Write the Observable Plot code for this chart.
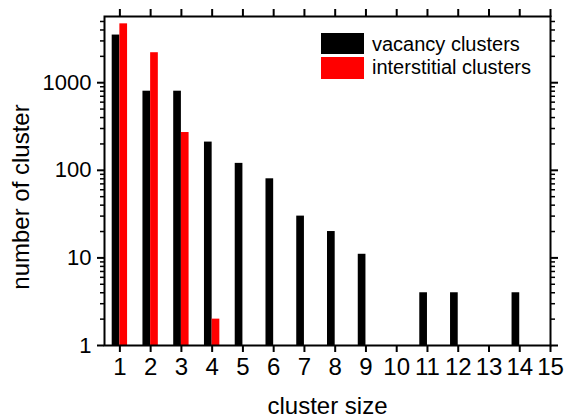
<!DOCTYPE html>
<html>
<head>
<meta charset="utf-8">
<script src="https://cdn.jsdelivr.net/npm/d3@7"></script>
<script src="https://cdn.jsdelivr.net/npm/@observablehq/plot@0.6"></script>
<style>
  html, body { margin: 0; padding: 0; background: white; }
  #wrap { position: relative; width: 564px; height: 418px; font-family: "Liberation Sans", Arial, sans-serif; }
  #legend { position: absolute; left: 321px; top: 33px; }
  .row { display: flex; align-items: flex-start; height: 23px; }
  .sw { width: 43px; height: 21px; margin-right: 8px; }
  .lab { font-size: 20px; line-height: 23px; color: black; white-space: nowrap; }
</style>
</head>
<body>
<div id="wrap"></div>
<script>
// ---- data ----
const vacancySizes = [1, 2, 3, 4, 5, 6, 7, 8, 9, 11, 12, 14];
const vacancyCounts = [3500, 800, 800, 210, 120, 80, 30, 20, 11, 4, 4, 4];
const interstitialSizes = [1, 2, 3, 4];
const interstitialCounts = [4700, 2200, 270, 2];
const seriesNames = ["vacancy clusters", "interstitial clusters"];
const seriesColors = ["#000000", "#ff0000"];
const xTicks = [1, 2, 3, 4, 5, 6, 7, 8, 9, 10, 11, 12, 13, 14, 15];
const yTicks = [1, 10, 100, 1000];
const xLabel = "cluster size";
const yLabel = "number of cluster";

// ---- build ----
const barW = 0.25;
const yMax = 5700;
const yMinor = [];
for (const d of yTicks) for (let k = 2; k <= 9; k++) if (d * k <= yMax) yMinor.push(d * k);

const vac = vacancySizes.map((s, i) => ({size: s, count: vacancyCounts[i]}));
const inter = interstitialSizes.map((s, i) => ({size: s, count: interstitialCounts[i]}));
const noText = () => "";

const chart = Plot.plot({
  width: 564,
  height: 418,
  marginLeft: 104,
  marginTop: 16,
  marginRight: 14,
  marginBottom: 73,
  style: {fontFamily: '"Liberation Sans", Arial, sans-serif', background: "white", color: "black"},
  x: {domain: [0.5, 15]},
  y: {type: "log", domain: [1, yMax]},
  marks: [
    Plot.rect(vac, {x1: d => d.size - barW, x2: d => d.size, y1: 1, y2: d => d.count, fill: seriesColors[0]}),
    Plot.rect(inter, {x1: d => d.size, x2: d => d.size + barW, y1: 1, y2: d => d.count, fill: seriesColors[1]}),
    Plot.frame({stroke: "black", strokeWidth: 2}),
    Plot.axisX({ticks: xTicks, tickSize: 7, tickPadding: 5, fontSize: 24, label: null, strokeWidth: 2, tickFormat: d => String(d)}),
    Plot.axisX({anchor: "top", ticks: xTicks, tickSize: 8, strokeWidth: 2, label: null, tickFormat: noText}),
    Plot.axisY({ticks: yTicks, tickSize: 7, tickPadding: 6, fontSize: 22, label: null, strokeWidth: 2, tickFormat: d => String(d)}),
    Plot.axisY({anchor: "left", ticks: yMinor, tickSize: 4, strokeWidth: 1.5, label: null, tickFormat: noText}),
    Plot.axisY({anchor: "right", ticks: yTicks, tickSize: 7, strokeWidth: 2, label: null, tickFormat: noText}),
    Plot.axisY({anchor: "right", ticks: yMinor, tickSize: 4, strokeWidth: 1.5, label: null, tickFormat: noText}),
    Plot.text([xLabel], {frameAnchor: "bottom", dy: 68, lineAnchor: "bottom", fontSize: 24}),
    Plot.text([yLabel], {frameAnchor: "left", dx: -83, dy: 16, rotate: -90, textAnchor: "middle", lineAnchor: "middle", fontSize: 24})
  ]
});

const wrap = document.getElementById("wrap");
wrap.appendChild(chart);

const legend = document.createElement("div");
legend.id = "legend";
seriesNames.forEach((name, i) => {
  const row = document.createElement("div");
  row.className = "row";
  const sw = document.createElement("div");
  sw.className = "sw";
  sw.style.background = seriesColors[i];
  if (i === 1) { sw.style.marginTop = "1px"; sw.style.height = "22px"; }
  const lab = document.createElement("span");
  lab.className = "lab";
  lab.textContent = name;
  row.appendChild(sw);
  row.appendChild(lab);
  legend.appendChild(row);
});
wrap.appendChild(legend);
</script>
</body>
</html>
